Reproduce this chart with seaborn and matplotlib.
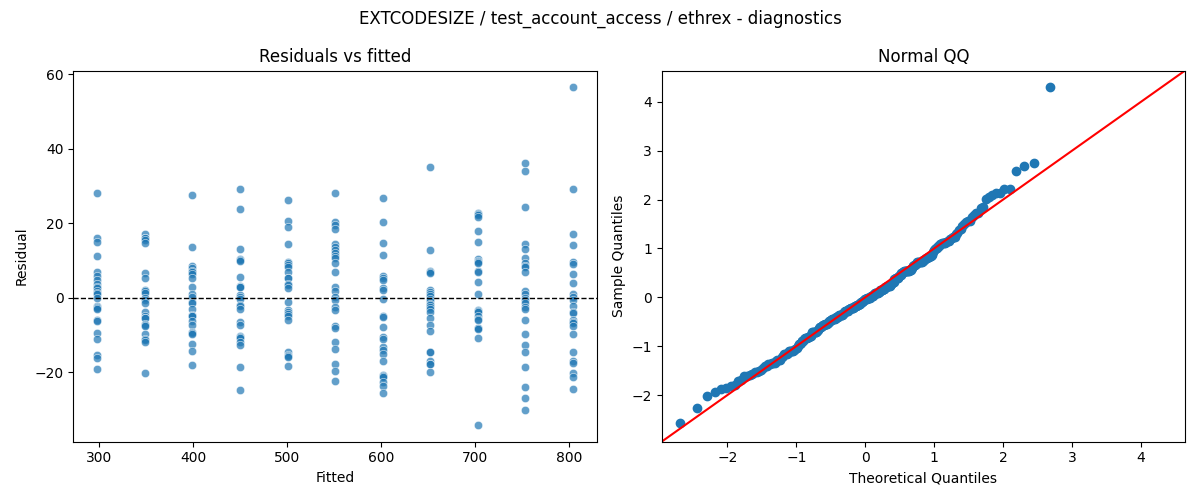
import numpy as np
import pandas as pd
import matplotlib
matplotlib.use('Agg')
import matplotlib.pyplot as plt
import seaborn as sns
from statistics import NormalDist

# Fitted levels (one column of points per level)
fitted_levels = [298.0, 348.6, 399.2, 449.8, 500.4, 551.0, 601.6, 652.2, 702.8, 753.4, 804.0]

# Residuals, one list per fitted level
resid_298 = [28.0, 15.9, 15.0, 11.1, 7.0, 5.9, 4.8, 3.8, 3.0, 2.7, 1.8, 1.3, 0.9, -0.2,
             -2.3, -2.5, -2.7, -2.9, -6.1, -6.2, -9.5, -11.1, -15.4, -16.3, -19.1]
resid_349 = [17.1, 16.1, 16.0, 15.5, 14.8, 6.6, 5.2, 2.0, 1.8, 1.4, -0.2, -0.5, -1.4,
             -3.8, -5.0, -5.4, -5.5, -7.0, -7.3, -7.7, -9.6, -11.1, -11.4, -11.8, -20.2]
resid_399 = [27.5, 13.6, 8.6, 7.9, 7.3, 7.0, 6.4, 5.2, 3.0, 0.9, 0.2, -1.1, -1.3,
             -2.9, -4.6, -4.8, -5.0, -6.2, -7.3, -9.3, -9.5, -9.6, -12.3, -14.3, -18.0]
resid_450 = [29.1, 23.9, 13.2, 10.4, 10.2, 9.8, 5.5, 3.2, 3.0, 2.9, 0.7, 0.2, -0.4,
             -2.0, -2.3, -2.9, -6.4, -7.3, -10.4, -10.5, -10.7, -12.0, -12.7, -18.6, -24.8]
resid_500 = [26.3, 20.5, 19.1, 14.5, 9.5, 9.3, 8.9, 8.2, 7.0, 5.4, 5.2, 3.8, 3.4,
             2.7, -1.1, -3.4, -3.9, -4.3, -5.0, -5.9, -14.6, -15.4, -15.5, -15.9, -18.2]
resid_551 = [28.0, 20.2, 19.6, 18.4, 14.5, 13.6, 12.9, 12.1, 11.1, 10.7, 9.3, 7.0, 2.9,
             1.8, 0.2, -0.7, -2.5, -3.4, -7.7, -8.2, -11.8, -13.8, -17.7, -19.6, -22.3]
resid_602 = [26.8, 20.4, 14.6, 11.4, 5.9, 5.2, 4.8, 2.7, 2.0, -0.4, -5.0, -5.2, -7.9,
             -10.5, -11.1, -13.2, -14.1, -15.2, -17.0, -20.7, -21.1, -21.3, -22.7, -23.8, -25.5]
resid_652 = [35.2, 12.7, 7.3, 7.0, 6.6, 2.1, 1.6, 1.1, 0.5, -0.4, -0.9, -1.6, -2.0,
             -2.5, -3.0, -3.8, -5.4, -7.3, -8.9, -14.5, -14.6, -17.0, -17.7, -17.9, -20.0]
resid_703 = [22.7, 22.5, 22.1, 21.6, 17.9, 15.0, 10.4, 9.8, 9.6, 9.3, 7.1, 7.0, 4.1,
             1.1, -3.4, -3.6, -3.9, -5.0, -5.7, -5.9, -8.0, -8.2, -8.4, -10.7, -34.1]
resid_753 = [36.1, 33.9, 24.3, 14.5, 13.2, 10.7, 9.3, 8.6, 8.2, 7.0, 1.8, 0.9, 0.0,
             -0.5, -1.4, -2.5, -2.9, -5.9, -9.6, -12.7, -14.6, -18.6, -23.9, -26.8, -30.0]
resid_804 = [56.4, 29.1, 17.0, 14.1, 9.5, 9.1, 6.4, 3.9, 0.9, 0.2, -0.7, -2.3, -3.9,
             -4.1, -5.9, -6.4, -6.8, -7.5, -9.6, -14.5, -17.0, -17.4, -20.2, -21.3, -24.6]

resid_groups = [resid_298, resid_349, resid_399, resid_450, resid_500, resid_551,
                resid_602, resid_652, resid_703, resid_753, resid_804]

df = pd.DataFrame({
    'fitted': np.repeat(fitted_levels, [len(g) for g in resid_groups]),
    'residual': np.concatenate(resid_groups),
})

# Normal QQ: standardized residuals vs normal plotting positions
resid = df['residual'].to_numpy()
std_resid = np.sort((resid - resid.mean()) / resid.std())
n = len(std_resid)
positions = np.arange(1, n + 1) / (n + 1)
theoretical = np.array([NormalDist().inv_cdf(p) for p in positions])

fig, (ax1, ax2) = plt.subplots(1, 2, figsize=(12, 5), dpi=100)

sns.scatterplot(data=df, x='fitted', y='residual', alpha=0.7, ax=ax1)
ax1.axhline(0, color='black', linestyle='--', linewidth=1)
ax1.set_title('Residuals vs fitted')
ax1.set_xlabel('Fitted')
ax1.set_ylabel('Residual')

sns.scatterplot(x=theoretical, y=std_resid, color='C0', edgecolor='C0',
                s=36, linewidth=1, ax=ax2)
xl = ax2.get_xlim()
yl = ax2.get_ylim()
lo, hi = min(xl[0], yl[0]), max(xl[1], yl[1])
ax2.plot([lo, hi], [lo, hi], color='r')
ax2.set_xlim(lo, hi)
ax2.set_ylim(lo, hi)
ax2.set_title('Normal QQ')
ax2.set_xlabel('Theoretical Quantiles')
ax2.set_ylabel('Sample Quantiles')

fig.suptitle('EXTCODESIZE / test_account_access / ethrex - diagnostics')
fig.tight_layout()
fig.savefig('out.png')
